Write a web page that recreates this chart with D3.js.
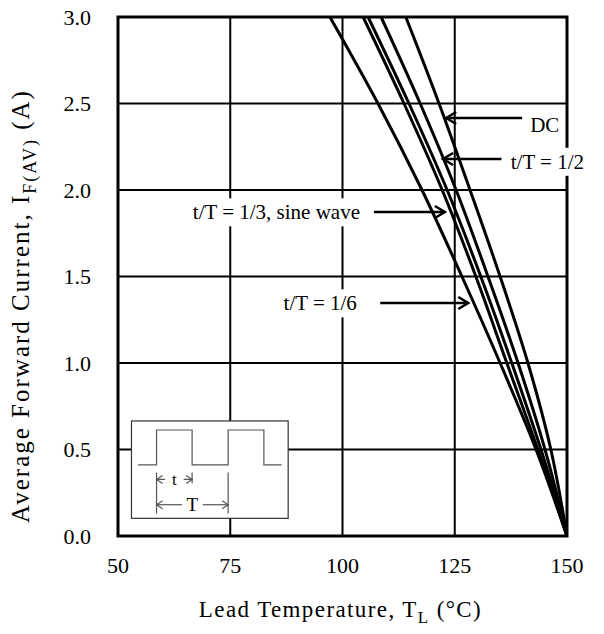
<!DOCTYPE html>
<html>
<head>
<meta charset="utf-8">
<script src="https://cdn.jsdelivr.net/npm/d3@7"></script>
<style>
  body { margin: 0; background: #fff; }
  text { font-family: "Liberation Serif", "Times New Roman", serif; fill: #000; }
</style>
</head>
<body>
<svg id="chart" width="604" height="634"></svg>
<script>
// derating curves, current (A) vs lead temperature (C)
var currents = [3.0, 2.5, 2.0, 1.5, 1.0, 0.5, 0.0];
var tempSixth = [97.2, 107.9, 117.7, 126.6, 135.1, 143.1, 150];
var tempThird = [104.6, 113.7, 122.2, 129.7, 136.6, 143.5, 150];
var tempSine = [105.7, 114.8, 123.3, 130.8, 137.7, 144.2, 150];
var tempHalf = [108.6, 117.3, 125.3, 132.4, 139.1, 145.1, 150];
var tempDC = [114.1, 121.5, 128.4, 135.1, 141.3, 146.4, 150];
var xTicks = [50, 75, 100, 125, 150];
var yTicks = [0.0, 0.5, 1.0, 1.5, 2.0, 2.5, 3.0];

// annotation labels: arrow tail/tip in temperature, at a current level
var labels = [
  {text: 'DC', tail: 140.0, tip: 123.1, level: 2.416, tx: 141.8, ty: 2.376, anchor: 'start'},
  {text: 't/T = 1/2', tail: 135.4, tip: 122.4, level: 2.179, tx: 153.8, ty: 2.165, anchor: 'end'},
  {text: 't/T = 1/3, sine wave', tail: 107.0, tip: 122.8, level: 1.873, tx: 103.9, ty: 1.873, anchor: 'end'},
  {text: 't/T = 1/6', tail: 108.4, tip: 128.0, level: 1.347, tx: 103.2, ty: 1.347, anchor: 'end'}
];

var svg = d3.select('#chart');
var margin = {top: 17, right: 37, bottom: 98, left: 118};
var width = +svg.attr('width') - margin.left - margin.right;
var height = +svg.attr('height') - margin.top - margin.bottom;

var x = d3.scaleLinear().domain([50, 150]).range([0, width]);
var y = d3.scaleLinear().domain([0, 3]).range([height, 0]);

var g = svg.append('g')
  .attr('transform', 'translate(' + margin.left + ',' + margin.top + ')');

// grid
g.selectAll('.grid-x')
  .data(xTicks.slice(1, -1))
  .enter().append('line')
  .attr('x1', function(d) { return x(d); })
  .attr('x2', function(d) { return x(d); })
  .attr('y1', 0)
  .attr('y2', height)
  .attr('stroke', '#000')
  .attr('stroke-width', 2);

g.selectAll('.grid-y')
  .data(yTicks.slice(1, -1))
  .enter().append('line')
  .attr('x1', 0)
  .attr('x2', width)
  .attr('y1', function(d) { return y(d); })
  .attr('y2', function(d) { return y(d); })
  .attr('stroke', '#000')
  .attr('stroke-width', 2);

// tick labels
g.selectAll('.tick-y')
  .data(yTicks)
  .enter().append('text')
  .attr('x', -27)
  .attr('y', function(d) { return y(d); })
  .attr('dy', '0.35em')
  .attr('text-anchor', 'end')
  .attr('font-size', 22)
  .text(function(d) { return d.toFixed(1); });

g.selectAll('.tick-x')
  .data(xTicks)
  .enter().append('text')
  .attr('x', function(d) { return x(d); })
  .attr('y', height + 37)
  .attr('text-anchor', 'middle')
  .attr('font-size', 22)
  .text(function(d) { return d; });

// inset pulse diagram (box in data units, wave in box-local fraction)
var inset = {t0: 53.0, t1: 87.9, i0: 0.102, i1: 0.665};
var bx = x(inset.t0), by = y(inset.i1);
var bw = x(inset.t1) - bx, bh = y(inset.i0) - by;
var insetG = g.append('g').attr('transform', 'translate(' + bx + ',' + by + ')');
insetG.append('rect')
  .attr('width', bw).attr('height', bh)
  .attr('fill', '#fff').attr('stroke', '#333').attr('stroke-width', 1.2);

var waveX = [0.042, 0.16, 0.387, 0.617, 0.845, 0.958];
var hi = 0.093 * bh, lo = 0.45 * bh;
var wavePts = [
  [waveX[0], lo], [waveX[1], lo], [waveX[1], hi], [waveX[2], hi], [waveX[2], lo],
  [waveX[3], lo], [waveX[3], hi], [waveX[4], hi], [waveX[4], lo], [waveX[5], lo]
].map(function(p) { return [p[0] * bw, p[1]]; });
insetG.append('path')
  .attr('d', d3.line()(wavePts))
  .attr('fill', 'none').attr('stroke', '#555').attr('stroke-width', 1.2);

var tickTop = 0.53 * bh;
[[waveX[1], 0.95], [waveX[2], 0.64], [waveX[3], 0.95]].forEach(function(p) {
  insetG.append('line')
    .attr('x1', p[0] * bw).attr('x2', p[0] * bw)
    .attr('y1', tickTop).attr('y2', p[1] * bh)
    .attr('stroke', '#555').attr('stroke-width', 1.2);
});

function dimArrow(parent, xa, xb, yy, label, size) {
  var mid = (xa + xb) / 2;
  var gap = size * 0.55;
  var stroke = '#555';
  parent.append('line').attr('x1', xa).attr('x2', mid - gap).attr('y1', yy).attr('y2', yy)
    .attr('stroke', stroke).attr('stroke-width', 1.2);
  parent.append('line').attr('x1', mid + gap).attr('x2', xb).attr('y1', yy).attr('y2', yy)
    .attr('stroke', stroke).attr('stroke-width', 1.2);
  parent.append('path')
    .attr('d', 'M' + (xa + 6) + ',' + (yy - 4) + 'L' + xa + ',' + yy + 'L' + (xa + 6) + ',' + (yy + 4))
    .attr('fill', 'none').attr('stroke', stroke).attr('stroke-width', 1.2);
  parent.append('path')
    .attr('d', 'M' + (xb - 6) + ',' + (yy - 4) + 'L' + xb + ',' + yy + 'L' + (xb - 6) + ',' + (yy + 4))
    .attr('fill', 'none').attr('stroke', stroke).attr('stroke-width', 1.2);
  parent.append('text')
    .attr('x', mid).attr('y', yy).attr('dy', '0.33em')
    .attr('text-anchor', 'middle').attr('font-size', size)
    .text(label);
}
dimArrow(insetG, waveX[1] * bw, waveX[2] * bw, 0.6 * bh, 't', 17);
dimArrow(insetG, waveX[1] * bw, waveX[3] * bw, 0.86 * bh, 'T', 19);

// curves
var series = [tempSixth, tempThird, tempSine, tempHalf, tempDC];
var line = d3.line()
  .x(function(d) { return x(d[0]); })
  .y(function(d) { return y(d[1]); })
  .curve(d3.curveCatmullRom.alpha(0.5));

g.append('defs').append('clipPath').attr('id', 'plot-clip')
  .append('rect').attr('width', width).attr('height', height);

g.selectAll('.curve')
  .data(series)
  .enter().append('path')
  .attr('class', 'curve')
  .attr('clip-path', 'url(#plot-clip)')
  .attr('d', function(temps) {
    return line(temps.map(function(t, i) { return [t, currents[i]]; }));
  })
  .attr('fill', 'none')
  .attr('stroke', '#000')
  .attr('stroke-width', 3);

// frame
g.append('rect')
  .attr('width', width)
  .attr('height', height)
  .attr('fill', 'none')
  .attr('stroke', '#000')
  .attr('stroke-width', 3);

// annotation labels with white backing, over the frame
labels.forEach(function(l) {
  var ly = y(l.level);
  var t = g.append('text')
    .attr('x', x(l.tx))
    .attr('y', y(l.ty))
    .attr('dy', '0.35em')
    .attr('text-anchor', l.anchor)
    .attr('font-size', 21)
    .text(l.text);
  var bb = t.node().getBBox();
  g.insert('rect', function() { return t.node(); })
    .attr('x', bb.x - 3).attr('y', bb.y - 2)
    .attr('width', bb.width + 6).attr('height', bb.height + 4)
    .attr('fill', '#fff');
  var dir = l.tip > l.tail ? 1 : -1;
  var tipX = x(l.tip);
  g.append('line')
    .attr('x1', x(l.tail)).attr('x2', tipX)
    .attr('y1', ly).attr('y2', ly)
    .attr('stroke', '#000').attr('stroke-width', 2.5);
  g.append('path')
    .attr('d', 'M' + (tipX - dir * 10) + ',' + (ly - 6) + 'L' + tipX + ',' + ly + 'L' + (tipX - dir * 10) + ',' + (ly + 6))
    .attr('fill', 'none').attr('stroke', '#000').attr('stroke-width', 2.5);
});

// axis titles
var xt = svg.append('text')
  .attr('x', margin.left + width / 2 - 2)
  .attr('y', 617)
  .attr('text-anchor', 'middle')
  .attr('font-size', 23)
  .attr('letter-spacing', 1.4);
xt.append('tspan').text('Lead Temperature, T');
xt.append('tspan').attr('font-size', 17).attr('dy', 6).text('L');
xt.append('tspan').attr('dy', -6).text(' (\u00B0C)');

var yt = svg.append('text')
  .attr('transform', 'translate(29,' + 306 + ') rotate(-90)')
  .attr('text-anchor', 'middle')
  .attr('font-size', 25)
  .attr('letter-spacing', 2);
yt.append('tspan').text('Average Forward Current, I');
yt.append('tspan').attr('font-size', 18).attr('dy', 7).text('F(AV)');
yt.append('tspan').attr('dy', -7).text(' (A)');
</script>
</body>
</html>
